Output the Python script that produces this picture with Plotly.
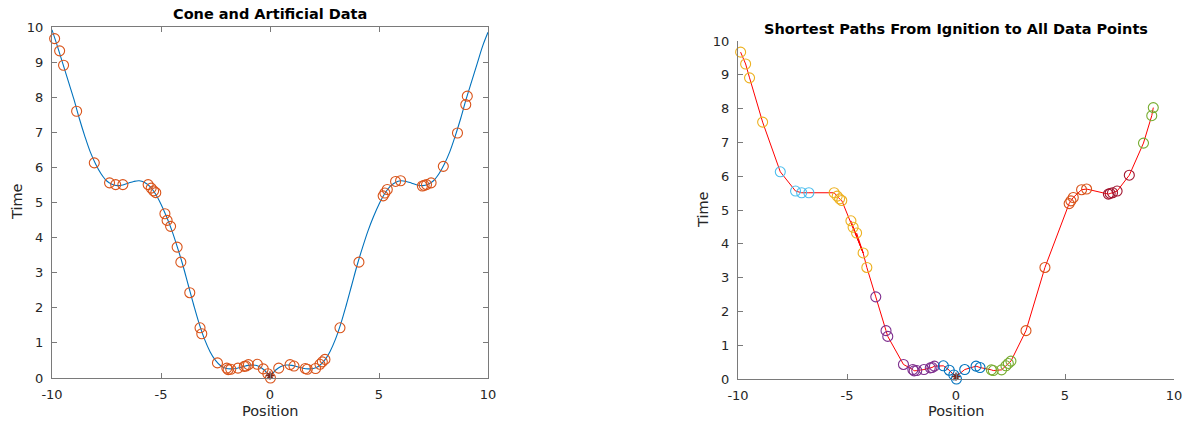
import plotly.graph_objects as go

# ---- data -------------------------------------------------------------
# sampled cone surface profile (position, time)
curve_pos = [-10.0, -9.75, -9.5, -9.25, -9.0, -8.75, -8.5, -8.25, -8.0, -7.75, -7.5, -7.25,
             -7.0, -6.75, -6.5, -6.25, -6.0, -5.75, -5.5, -5.25, -5.0, -4.75, -4.5, -4.25,
             -4.0, -3.75, -3.5, -3.25, -3.0, -2.75, -2.5, -2.25, -2.0, -1.75, -1.5, -1.25,
             -1.0, -0.75, -0.5, -0.25, 0.0, 0.25, 0.5, 0.75, 1.0, 1.25, 1.5, 1.75, 2.0,
             2.25, 2.5, 2.75, 3.0, 3.25, 3.5, 3.75, 4.0, 4.25, 4.5, 4.75, 5.0, 5.25, 5.5,
             5.75, 6.0, 6.25, 6.5, 6.75, 7.0, 7.25, 7.5, 7.75, 8.0, 8.25, 8.5, 8.75, 9.0,
             9.25, 9.5, 9.75, 10.0]
curve_time = [9.92, 9.45, 8.95, 8.45, 7.95, 7.4, 6.9, 6.45, 6.1, 5.82, 5.62, 5.52,
              5.48, 5.5, 5.55, 5.6, 5.62, 5.57, 5.45, 5.24, 4.95, 4.6, 4.2, 3.73,
              3.22, 2.65, 2.08, 1.55, 1.1, 0.75, 0.5, 0.34, 0.27, 0.26, 0.28, 0.32,
              0.36, 0.37, 0.33, 0.22, 0.05, 0.22, 0.33, 0.37, 0.36, 0.32, 0.28, 0.26, 0.27,
              0.34, 0.5, 0.75, 1.1, 1.55, 2.08, 2.65, 3.22, 3.73, 4.2, 4.6, 4.95, 5.24, 5.45,
              5.57, 5.62, 5.6, 5.55, 5.5, 5.48, 5.52, 5.62, 5.82, 6.1, 6.45, 6.9, 7.4, 7.95,
              8.45, 8.95, 9.45, 9.85]

# artificial observations
data_pos = [-9.88, -9.65, -9.47, -8.87, -8.06, -7.36, -7.08, -6.75, -5.59, -5.45, -5.34, -5.24,
            -4.82, -4.72, -4.56, -4.26, -4.09, -3.68, -3.21, -3.13, -2.41, -1.98, -1.92, -1.80,
            -1.47, -1.18, -1.10, -0.99, -0.58, -0.31, -0.10, 0.02, 0.40, 0.92, 1.10, 1.62,
            1.71, 2.09, 2.29, 2.40, 2.52, 3.21, 4.08, 5.19, 5.27, 5.38, 5.76, 5.99, 6.99,
            7.07, 7.18, 7.39, 7.95, 8.60, 8.98, 9.05]
data_time = [9.67, 9.32, 8.91, 7.60, 6.13, 5.56, 5.51, 5.51, 5.51, 5.41, 5.33, 5.28,
             4.68, 4.49, 4.32, 3.73, 3.30, 2.43, 1.43, 1.26, 0.43, 0.28, 0.24, 0.25,
             0.28, 0.33, 0.34, 0.38, 0.39, 0.26, 0.12, 0.00, 0.28, 0.38, 0.34, 0.27,
             0.25, 0.27, 0.39, 0.46, 0.53, 1.43, 3.30, 5.19, 5.27, 5.37, 5.60, 5.62, 5.47,
             5.49, 5.51, 5.56, 6.03, 6.98, 7.79, 8.03]

# path group of every observation
data_group = [2, 2, 2, 2, 5, 5, 5, 5, 2, 2, 2, 2,
              2, 2, 2, 2, 2, 3, 3, 3, 3, 3, 3, 3,
              3, 3, 3, 3, 0, 0, 0, 0, 0, 0, 0, 4,
              4, 4, 4, 4, 4, 1, 1, 1, 1, 1, 1, 1, 6,
              6, 6, 6, 6, 4, 4, 4]

# predecessor of each observation on its shortest path (-1 = ignition)
data_parent = [1, 2, 3, 4, 5, 6, 7, 8, 9, 10, 11, 15,
               15, 15, 15, 16, 17, 18, 19, 20, 21, 22, 23, 24,
               25, 26, 27, 28, 29, 30, -1, -1, -1, 32, 33, 34,
               35, 36, 37, 38, 39, 40, 41, 42, 43, 44, 45, 46, 47,
               48, 49, 50, 51, 52, 53, 54]

ignition_pos = [0.0]
ignition_time = [0.07]

group_colors = ["#0072BD", "#D95319", "#EDB120", "#7E2F8E", "#77AC30", "#4DBEEE", "#A2142F"]

tick_vals_x = [-10, -5, 0, 5, 10]
tick_text_x = ["-10", "-5", "0", "5", "10"]
tick_vals_y = list(range(0, 11))

# ---- figure -------------------------------------------------------------
W, H = 1184, 421
FONT = "DejaVu Sans"
TXT = "#262626"
AX = "#7a7a7a"

fig = go.Figure()

# left panel: cone profile and observations
fig.add_trace(go.Scatter(x=curve_pos, y=curve_time, mode="lines", line_shape="spline",
                         line=dict(color="#0072BD", width=1.1), xaxis="x", yaxis="y",
                         showlegend=False, hoverinfo="skip"))
fig.add_trace(go.Scatter(x=data_pos, y=data_time, mode="markers", cliponaxis=False,
                         marker=dict(symbol="circle-open", size=10, color="#D95319",
                                     line=dict(width=1.1)),
                         xaxis="x", yaxis="y", showlegend=False))
fig.add_trace(go.Scatter(x=ignition_pos, y=ignition_time, mode="markers", cliponaxis=False,
                         marker=dict(symbol="asterisk-open", size=7, color="#7a2a20",
                                     line=dict(width=1.2, color="#7a2a20")),
                         xaxis="x", yaxis="y", showlegend=False))

# right panel: shortest-path tree from ignition
seg_x, seg_y = [], []
for i, p in enumerate(data_parent):
    px = ignition_pos[0] if p < 0 else data_pos[p]
    py = ignition_time[0] if p < 0 else data_time[p]
    seg_x += [data_pos[i], px, None]
    seg_y += [data_time[i], py, None]
fig.add_trace(go.Scatter(x=seg_x, y=seg_y, mode="lines", line=dict(color="#FF0000", width=1),
                         xaxis="x2", yaxis="y2", showlegend=False, hoverinfo="skip"))
fig.add_trace(go.Scatter(x=data_pos, y=data_time, mode="markers", cliponaxis=False,
                         marker=dict(symbol="circle-open", size=10,
                                     color=[group_colors[g] for g in data_group],
                                     line=dict(width=1.1)),
                         xaxis="x2", yaxis="y2", showlegend=False))
fig.add_trace(go.Scatter(x=ignition_pos, y=ignition_time, mode="markers", cliponaxis=False,
                         marker=dict(symbol="asterisk-open", size=7, color="#7a2a20",
                                     line=dict(width=1.2, color="#7a2a20")),
                         xaxis="x2", yaxis="y2", showlegend=False))


def px_x(p):
    return p / W


def px_y(p):
    return 1 - p / H


# panel frames in pixels: (left, right, top, bottom)
L1 = (52, 488, 27, 378)
L2 = (738, 1174, 41, 379)

axis_common = dict(showgrid=False, zeroline=False, ticks="inside", ticklen=5, tickwidth=1,
                   tickcolor=AX, linecolor=AX, linewidth=1, showline=True, automargin=False,
                   tickfont=dict(family=FONT, size=13, color=TXT))

fig.update_layout(
    width=W, height=H, margin=dict(l=0, r=0, t=0, b=0, autoexpand=False),
    paper_bgcolor="white", plot_bgcolor="white",
    xaxis=dict(domain=[px_x(L1[0]), px_x(L1[1])], range=[-10, 10], anchor="y",
               tickvals=tick_vals_x, ticktext=tick_text_x, mirror="ticks",
               ticklabelstandoff=4, **axis_common),
    yaxis=dict(domain=[px_y(L1[3]), px_y(L1[2])], range=[0, 10], anchor="x",
               tickvals=tick_vals_y, mirror="ticks", ticklabelstandoff=5, **axis_common),
    xaxis2=dict(domain=[px_x(L2[0]), px_x(L2[1])], range=[-10, 10], anchor="y2",
                tickvals=tick_vals_x, ticktext=tick_text_x, ticklabelstandoff=4,
                **axis_common),
    yaxis2=dict(domain=[px_y(L2[3]), px_y(L2[2])], range=[0, 10], anchor="x2",
                tickvals=tick_vals_y, ticklabelstandoff=5, **axis_common),
)

annotations = [
    dict(text="<b>Cone and Artificial Data</b>", x=px_x((L1[0] + L1[1]) / 2), y=px_y(14),
         font=dict(family=FONT, size=14.5, color="#000000")),
    dict(text="<b>Shortest Paths From Ignition to All Data Points</b>",
         x=px_x((L2[0] + L2[1]) / 2), y=px_y(29),
         font=dict(family=FONT, size=14.5, color="#000000")),
    dict(text="Position", x=px_x((L1[0] + L1[1]) / 2), y=px_y(411),
         font=dict(family=FONT, size=14.5, color=TXT)),
    dict(text="Position", x=px_x((L2[0] + L2[1]) / 2), y=px_y(411),
         font=dict(family=FONT, size=14.5, color=TXT)),
    dict(text="Time", x=px_x(17), y=px_y(202), textangle=-90,
         font=dict(family=FONT, size=14.5, color=TXT)),
    dict(text="Time", x=px_x(703), y=px_y(210), textangle=-90,
         font=dict(family=FONT, size=14.5, color=TXT)),
]
for a in annotations:
    a.update(xref="paper", yref="paper", showarrow=False, xanchor="center", yanchor="middle")
fig.update_layout(annotations=annotations)

fig.write_html("out.html")
